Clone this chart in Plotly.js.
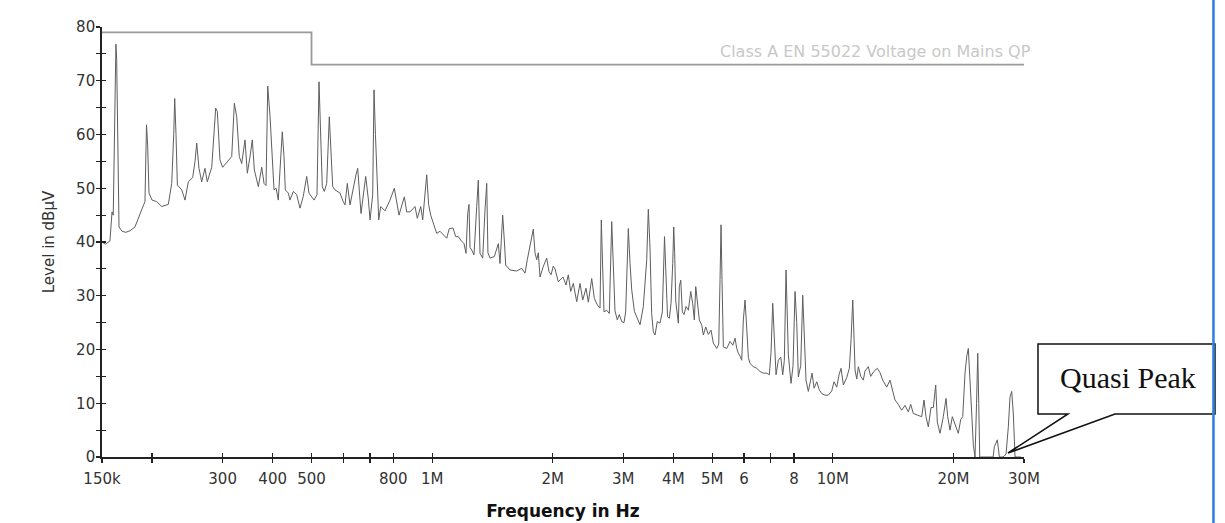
<!DOCTYPE html>
<html>
<head>
<meta charset="utf-8">
<script src="https://cdn.plot.ly/plotly-3.0.1.min.js"></script>
<style>html,body{margin:0;padding:0;background:#fff;}#chart{width:1225px;height:523px;}</style>
</head>
<body>
<div id="chart"></div>
<script>
// Frequency in MHz, level in dBµV (quasi-peak scan)
const freqMHz = [
0.150,0.153,0.157,0.1589,0.160,0.1616,0.1625,0.1632,0.1645,0.1654,0.1683,0.172,0.1762,0.1813,0.1884,0.192,0.1937,0.195,0.1965,0.200,
0.2054,0.2114,0.2196,0.2239,0.2265,0.2278,0.2295,0.2313,0.2372,0.2417,0.2463,0.2526,0.256,0.2585,0.2619,0.266,0.2711,0.2747,0.2818,0.2883,
0.291,0.2955,0.300,0.3072,0.3161,0.3209,0.3253,0.3302,0.3348,0.3412,0.3458,0.3512,0.3558,0.360,0.3683,0.3756,0.3806,0.385,0.3888,0.394,
0.3992,0.4031,0.408,0.4131,0.4172,0.4227,0.4269,0.4301,0.4376,0.4418,0.4503,0.4592,0.468,0.4769,0.4864,0.4928,0.5072,0.516,0.522,0.5271,
0.532,0.5381,0.5456,0.5538,0.5592,0.5647,0.5723,0.5889,0.600,0.6061,0.6142,0.6238,0.6456,0.652,0.6645,0.6827,0.693,0.700,0.7107,0.716,
0.722,0.7298,0.7357,0.7442,0.7628,0.785,0.8046,0.8267,0.8523,0.8641,0.8807,0.9063,0.9184,0.9365,0.9473,0.9693,0.980,0.9918,1.0068,1.0266,
1.0463,1.0663,1.0874,1.1038,1.1275,1.145,1.1623,1.183,1.201,1.2149,1.2269,1.236,1.2432,1.2554,1.2721,1.292,1.3039,1.3167,1.3373,1.3551,
1.3685,1.378,1.3947,1.43,1.4628,1.477,1.4915,1.500,1.515,1.5262,1.5643,1.6257,1.6731,1.7052,1.7279,1.755,1.7886,1.806,1.8239,1.841,
1.8588,1.895,1.9317,1.957,1.98,2.006,2.026,2.0648,2.121,2.1582,2.187,2.2174,2.2508,2.2952,2.3391,2.3757,2.4212,2.454,2.5018,2.54,
2.5836,2.6241,2.6438,2.665,2.6852,2.727,2.7683,2.8068,2.833,2.86,2.8985,2.932,2.9726,3.012,3.041,3.0876,3.118,3.1485,3.197,3.2514,
3.3023,3.3655,3.432,3.4637,3.497,3.531,3.5646,3.5997,3.647,3.7047,3.754,3.8019,3.832,3.8681,3.9083,3.9467,3.985,4.0085,4.03,4.055,
4.1159,4.1396,4.173,4.2116,4.253,4.302,4.36,4.4199,4.4709,4.5123,4.5487,4.59,4.6438,4.71,4.7517,4.818,4.89,4.9667,5.0328,5.1321,
5.1914,5.2303,5.2605,5.29,5.3304,5.4357,5.5397,5.63,5.7012,5.757,5.8101,5.8672,5.9248,5.9795,6.0383,6.0975,6.155,6.2142,6.3332,6.4581,
6.5817,6.7078,6.8401,6.9431,7.0113,7.0801,7.1456,7.2159,7.3118,7.4133,7.499,7.5683,7.6426,7.70,7.7442,7.8655,7.9563,8.0482,8.1273,8.2025,
8.316,8.412,8.4899,8.5731,8.6873,8.79,8.8742,8.98,9.1173,9.25,9.3831,9.5627,9.746,9.9381,10.07,10.228,10.364,10.484,10.624,10.833,
10.997,11.105,11.214,11.298,11.363,11.475,11.581,11.741,11.915,12.031,12.261,12.431,12.619,12.912,13.114,13.319,13.629,13.89,14.107,14.295,
14.568,14.856,15.14,15.43,15.645,15.881,16.25,16.665,16.887,17.082,17.31,17.58,17.814,18.062,18.228,18.514,18.869,19.164,19.352,19.61,
19.871,20.181,20.568,20.855,21.096,21.377,21.587,21.786,22.0,22.217,22.422,22.642,22.84,22.997,23.13,23.262,23.708,24.78,25.12,25.298,
25.737,26.04,26.595,27.057,27.417,27.686,27.958,28.216,28.494,29.5
];
const levelDb = [
40.0,39.6,40.2,45.6,45.0,72.0,76.8,74.0,54.7,42.8,42.0,41.8,42.1,42.8,46.0,47.5,61.8,58.0,49.1,47.8,
47.5,46.6,47.0,50.9,60.0,66.7,60.0,50.6,49.7,47.8,51.2,52.0,55.0,58.4,53.7,51.2,53.7,51.2,53.9,64.9,
64.3,55.3,53.9,54.9,55.9,65.8,63.3,55.9,54.6,59.0,52.8,55.9,59.0,53.4,50.3,53.9,50.9,50.5,69.0,63.3,
54.6,49.7,50.0,47.8,53.4,60.5,55.9,49.7,49.1,47.8,49.4,48.8,46.3,48.5,52.2,49.1,47.8,48.8,69.8,61.5,
50.3,49.4,50.9,63.3,57.7,50.3,49.7,49.1,47.5,46.9,50.9,46.9,52.5,53.7,45.3,52.2,48.0,44.1,48.8,68.3,
60.0,51.2,44.1,46.6,45.8,47.8,50.0,45.0,48.4,45.6,45.6,46.6,44.4,46.6,44.1,52.5,47.0,45.0,43.5,41.6,
42.0,41.3,40.7,42.5,42.6,41.0,41.0,40.2,39.7,37.9,45.3,47.0,39.0,38.5,37.6,46.6,51.5,37.9,37.0,46.0,
50.9,38.0,37.0,37.3,39.7,36.0,41.0,45.0,40.0,35.7,34.8,34.6,35.1,34.2,36.7,39.4,42.4,38.0,36.7,38.0,
33.5,35.5,37.0,34.5,33.9,35.5,35.0,32.6,33.5,32.0,33.9,30.8,32.3,28.9,32.3,29.2,31.4,28.8,33.2,29.5,
28.3,27.7,44.1,35.0,27.0,27.3,26.7,43.8,35.0,27.2,25.5,26.5,25.2,25.0,27.0,42.5,36.0,31.1,27.1,25.8,
24.6,28.0,36.7,46.1,39.0,26.7,23.3,22.7,25.2,24.9,27.0,41.0,34.0,26.1,25.8,28.6,36.0,42.8,38.0,29.0,
24.9,31.7,32.9,27.0,26.5,28.0,27.3,30.8,28.5,25.5,31.7,28.5,25.5,24.5,22.7,24.2,22.8,23.6,21.2,20.2,
21.0,33.0,43.2,33.0,20.5,20.2,21.5,20.8,22.1,20.2,19.3,18.8,18.0,25.5,29.2,24.0,18.5,17.4,16.8,16.5,
15.9,15.6,15.6,15.3,19.5,28.6,22.0,15.3,18.0,18.6,15.3,18.0,34.8,28.0,19.0,13.7,17.0,30.8,25.0,14.9,
17.0,30.1,23.0,14.3,12.2,14.2,15.6,12.8,14.0,12.5,11.8,11.5,11.5,12.3,14.0,13.0,15.3,16.5,13.4,14.8,
16.5,21.8,29.2,22.0,16.2,14.5,16.8,15.0,14.3,16.0,16.8,15.0,15.8,16.5,15.7,14.3,13.0,14.3,12.0,10.6,
9.8,8.7,9.6,8.4,9.8,8.1,7.8,7.5,10.6,7.5,5.6,9.2,9.2,13.4,6.5,4.4,7.5,10.9,7.5,5.0,
7.5,6.0,4.4,7.0,7.5,15.6,18.7,20.2,15.0,8.0,2.2,0.0,10.0,19.3,10.0,0.0,0.0,0.0,0.0,1.9,
3.2,0.0,0.0,0.5,5.6,11.2,12.2,8.0,0.0,0.0
];
// Class A EN 55022 QP limit (mains)
const limitFreq = [0.15, 0.5, 30];
const limitLevel = [79, 73, 73];
const limitLabel = "Class A EN 55022 Voltage on Mains QP";

const xTickVals = [0.15,0.2,0.3,0.4,0.5,0.6,0.7,0.8,1,2,3,4,5,6,7,8,10,20,30];
const xTickText = ["150k","","300","400","500","","","800","1M","2M","3M","4M","5M","6","","8","10M","20M","30M"];
const yTickVals = [0,5,10,15,20,25,30,35,40,45,50,55,60,65,70,75,80];
const yTickText = ["0","","10","","20","","30","","40","","50","","60","","70","","80"];

const xr = [Math.log10(0.15), Math.log10(30)];
const yr = [0, 80];
const axisCol = '#222';
const fontFam = '"DejaVu Sans", Arial, sans-serif';

const traces = [
  {x: freqMHz, y: levelDb, type: 'scatter', mode: 'lines', xaxis: 'x', yaxis: 'y',
   line: {color: '#5e5e5e', width: 1}, hoverinfo: 'skip', showlegend: false, cliponaxis: true},
  {x: limitFreq, y: limitLevel, type: 'scatter', mode: 'lines', xaxis: 'x2', yaxis: 'y2',
   line: {color: '#9a9a9a', width: 1.8, shape: 'hv'}, hoverinfo: 'skip', showlegend: false}
];

const layout = {
  width: 1225, height: 523,
  margin: {l: 102, r: 201, t: 27, b: 66},
  paper_bgcolor: '#fff', plot_bgcolor: '#fff',
  showlegend: false, hovermode: false,
  font: {family: fontFam, color: '#333'},
  xaxis: {
    type: 'log', range: xr, tickvals: xTickVals, ticktext: xTickText,
    ticks: 'outside', ticklen: 4, tickwidth: 1.2, tickcolor: axisCol,
    showline: true, linecolor: axisCol, linewidth: 1.5, showgrid: false, zeroline: false,
    tickfont: {family: fontFam, size: 15, color: '#333'}, ticklabelstandoff: 3,
    title: {text: '<b>Frequency in Hz</b>', font: {family: fontFam, size: 17, color: '#111'}, standoff: 18}
  },
  yaxis: {
    range: yr, tickvals: yTickVals, ticktext: yTickText,
    ticks: 'outside', ticklen: 4, tickwidth: 1.2, tickcolor: axisCol,
    showline: true, linecolor: axisCol, linewidth: 1.8, showgrid: false, zeroline: false,
    tickfont: {family: fontFam, size: 15, color: '#333'}, ticklabelstandoff: -2,
    title: {text: 'Level in dBµV', font: {family: fontFam, size: 15, color: '#333'}, standoff: 18}
  },
  xaxis2: {
    type: 'log', range: xr, overlaying: 'x', anchor: 'y2', side: 'bottom',
    tickvals: xTickVals, ticks: 'inside', ticklen: 4, tickwidth: 1.2, tickcolor: axisCol,
    showticklabels: false, showline: false, showgrid: false, zeroline: false
  },
  yaxis2: {
    range: yr, overlaying: 'y', anchor: 'x2', side: 'left',
    tickvals: yTickVals, ticks: 'inside', ticklen: 4, tickwidth: 1.2, tickcolor: axisCol,
    showticklabels: false, showline: false, showgrid: false, zeroline: false
  },
  annotations: [
    {text: limitLabel, xref: 'paper', yref: 'paper', x: 1.0098, y: 0.9426,
     xanchor: 'right', yanchor: 'middle', showarrow: false,
     font: {family: fontFam, size: 16, color: '#c8c8c8'}},
    {text: 'Quasi Peak', xref: 'paper', yref: 'paper', x: 1.1128, y: 0.185,
     xanchor: 'center', yanchor: 'middle', showarrow: false,
     font: {family: '"Liberation Serif", "Times New Roman", serif', size: 30, color: '#111'}}
  ],
  shapes: [
    {type: 'path', xref: 'paper', yref: 'paper',
     path: 'M 1.01518 0.26279 L 1.20716 0.26279 L 1.20716 0.1 L 1.0987 0.1 L 0.98265 0.0093 L 1.04772 0.1 L 1.01518 0.1 Z',
     line: {color: '#111', width: 1.5}, fillcolor: 'rgba(255,255,255,1)'},
    {type: 'line', xref: 'paper', yref: 'paper', x0: 1.2055, x1: 1.2055, y0: -0.16, y1: 1.07,
     line: {color: '#2b7fe0', width: 2.5}}
  ]
};

Plotly.newPlot('chart', traces, layout, {staticPlot: true, displayModeBar: false});
</script>
</body>
</html>
